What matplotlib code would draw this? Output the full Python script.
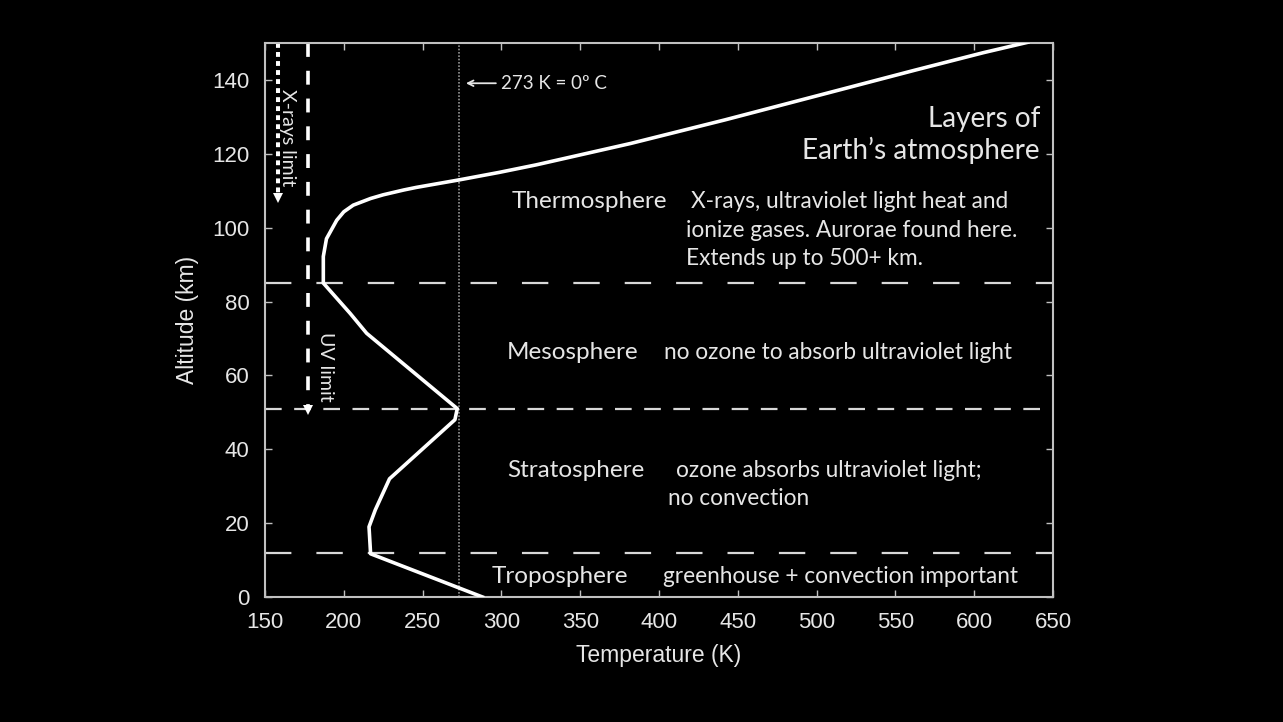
import numpy as np
import matplotlib
matplotlib.use("Agg")
import matplotlib.pyplot as plt

plt.rcParams['lines.scale_dashes'] = False

# temperature profile (K, km)
temp_k = [288, 217, 216, 220, 229, 270.5, 272, 214.5, 204, 187, 187, 189, 195.5,
          200, 206, 217, 225, 238, 246, 274, 299, 322, 382, 442, 502, 562, 606, 634]
alt_km = [0, 11.7, 19, 23.6, 32, 48, 51, 71.4, 76.8, 85, 92.2, 97, 102,
          104.3, 106.1, 107.9, 108.9, 110.2, 110.9, 113, 115.0, 117, 122.8, 129.2,
          135.9, 142.6, 147.4, 150.2]

boundaries_long = [12, 85]     # tropopause, mesopause
boundary_short = 51            # stratopause
freezing_k = 273
xray_k, xray_bottom = 158.5, 107
uv_k, uv_bottom = 177.5, 49.5

x_ticks = [150, 200, 250, 300, 350, 400, 450, 500, 550, 600, 650]
y_ticks = [0, 20, 40, 60, 80, 100, 120, 140]

layers = [
    ("Thermosphere", 306.7, 105.2),
    ("Mesosphere", 303.6, 64.4),
    ("Stratosphere", 303.6, 32.4),
    ("Troposphere", 294, 3.7),
]
notes = [
    ("X-rays, ultraviolet light heat and", 420.3, 105.2),
    ("ionize gases. Aurorae found here.", 417.1, 97.6),
    ("Extends up to 500+ km.", 417.1, 89.9),
    ("no ozone to absorb ultraviolet light", 403.2, 64.4),
    ("ozone absorbs ultraviolet light;", 410.8, 32.4),
    ("no convection", 405.7, 24.9),
    ("greenhouse + convection important", 402.5, 3.7),
]

txt = '#e6e6e6'
grey = '#c0c0c0'
ann_font = ['Lato', 'DejaVu Sans']
tick_font = ['Liberation Sans', 'DejaVu Sans']

fig = plt.figure(figsize=(12.83, 7.22), dpi=100, facecolor='black')
ax = fig.add_axes([265 / 1283, 125 / 722, 788 / 1283, 554 / 722])
ax.set_facecolor('black')

# layer boundaries
for b in boundaries_long:
    ax.axhline(b, color='#d8d8d8', lw=1.6, dashes=(19, 18), zorder=1)
ax.axhline(boundary_short, color='#d8d8d8', lw=1.6, dashes=(12, 9), zorder=1)

# 273 K line
ax.axvline(freezing_k, color='#a0a0a0', lw=1.1, dashes=(1.2, 1.2), zorder=1)

# x-ray and UV penetration limits
ax.plot([xray_k, xray_k], [150, xray_bottom + 1.5], color='white', lw=2.9,
        dashes=(3.5, 3), solid_capstyle='butt', zorder=2)
ax.plot(xray_k, xray_bottom + 1, marker='v', ms=7, color='white', mew=0, zorder=2)
ax.plot([uv_k, uv_k], [150, uv_bottom + 1.5], color='white', lw=2.6,
        dashes=(10, 10), zorder=2)
ax.plot(uv_k, uv_bottom + 1, marker='v', ms=7, color='white', mew=0, zorder=2)

ax.text(164.5, 124.5, "X-rays limit", rotation=-90, color=txt, fontsize=14,
        family=ann_font, ha='center', va='center')
ax.text(188.7, 62.3, "UV limit", rotation=-90, color=txt, fontsize=14,
        family=ann_font, ha='center', va='center')

# temperature profile
ax.plot(temp_k, alt_km, color='white', lw=2.6, solid_joinstyle='round', zorder=3)

ax.annotate("", xy=(277.5, 139.1), xytext=(296.5, 139.1),
            arrowprops=dict(arrowstyle='->', color=txt, lw=1.3,
                            shrinkA=0, shrinkB=0))
ax.text(299.5, 137.5, "273 K = 0\u00ba C", color=txt, fontsize=13.5,
        family=ann_font, ha='left', va='baseline')

for name, x, y in layers:
    ax.text(x, y, name, color=txt, fontsize=17.5, family=ann_font,
            ha='left', va='baseline')
for line, x, y in notes:
    ax.text(x, y, line, color=txt, fontsize=16.3, family=ann_font,
            ha='left', va='baseline')

ax.text(641.8, 127.2, "Layers of", color=txt, fontsize=20.2, family=ann_font,
        ha='right', va='baseline')
ax.text(641.8, 118.5, "Earth\u2019s atmosphere", color=txt, fontsize=20.2,
        family=ann_font, ha='right', va='baseline')

ax.set_xlim(150, 650)
ax.set_ylim(0, 150)
ax.set_xticks(x_ticks)
ax.set_yticks(y_ticks)
ax.tick_params(direction='in', top=True, right=True, length=5, width=1,
               color=grey, labelcolor=txt, labelsize=16, pad=11)
for lab in ax.get_xticklabels() + ax.get_yticklabels():
    lab.set_family(tick_font)
for sp in ax.spines.values():
    sp.set_color(grey)
    sp.set_linewidth(1.5)

ax.set_xlabel("Temperature (K)", color=txt, fontsize=16.5, family=tick_font, labelpad=8)
ax.set_ylabel("Altitude (km)", color=txt, fontsize=16.5, family=tick_font, labelpad=10)

fig.savefig("out.png", dpi=100, facecolor='black')
